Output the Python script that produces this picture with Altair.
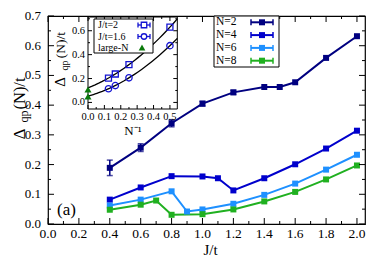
import altair as alt
import pandas as pd

SERIF = "Liberation Serif"

# ---------------- main panel data ----------------
series_names = ["N=2", "N=4", "N=6", "N=8"]
series_colors = ["#000080", "#0000cc", "#1e90ff", "#20b020"]

J_N2 = [0.4, 0.6, 0.8, 1.0, 1.2, 1.4, 1.5, 1.6, 1.8, 2.0]
gap_N2 = [0.189, 0.257, 0.339, 0.405, 0.443, 0.461, 0.461, 0.477, 0.559, 0.632]
err_N2 = [0.026, 0.013, 0.012, 0.008, 0.007, 0.0, 0.0, 0.0, 0.0, 0.0]

J_N4 = [0.4, 0.6, 0.8, 1.0, 1.1, 1.2, 1.4, 1.6, 1.8, 2.0]
gap_N4 = [0.082, 0.123, 0.161, 0.160, 0.154, 0.113, 0.154, 0.201, 0.254, 0.314]

J_N6 = [0.4, 0.6, 0.8, 0.9, 1.0, 1.2, 1.4, 1.6, 1.8, 2.0]
gap_N6 = [0.062, 0.082, 0.110, 0.042, 0.049, 0.068, 0.098, 0.136, 0.183, 0.233]

J_N8 = [0.4, 0.6, 0.7, 0.8, 1.0, 1.2, 1.4, 1.6, 1.8, 2.0]
gap_N8 = [0.048, 0.065, 0.079, 0.031, 0.033, 0.049, 0.076, 0.108, 0.150, 0.197]

x_major = [0.0, 0.2, 0.4, 0.6, 0.8, 1.0, 1.2, 1.4, 1.6, 1.8, 2.0]
x_minor = [0.1, 0.3, 0.5, 0.7, 0.9, 1.1, 1.3, 1.5, 1.7, 1.9]
y_major = [0.0, 0.1, 0.2, 0.3, 0.4, 0.5, 0.6, 0.7]
y_minor = [0.05, 0.15, 0.25, 0.35, 0.45, 0.55, 0.65]

# ---------------- inset data ----------------
Ninv = [0.125, 0.1667, 0.25, 0.5]
gap_J2 = [0.204, 0.238, 0.316, 0.630]
gap_J16 = [0.115, 0.141, 0.206, 0.475]
largeN_x = [0.0, 0.0]
largeN_gap = [0.108, 0.050]

ix_major = [0.0, 0.1, 0.2, 0.3, 0.4, 0.5]
ix_minor = [0.05, 0.15, 0.25, 0.35, 0.45]
iy_major = [0.0, 0.2, 0.4, 0.6]
iy_minor = [0.1, 0.3, 0.5, 0.7]

# ---------------- frames ----------------
rows = []
for name, Js, gs, es in [
    ("N=2", J_N2, gap_N2, err_N2),
    ("N=4", J_N4, gap_N4, [0.0] * len(J_N4)),
    ("N=6", J_N6, gap_N6, [0.0] * len(J_N6)),
    ("N=8", J_N8, gap_N8, [0.0] * len(J_N8)),
]:
    for j, g, e in zip(Js, gs, es):
        rows.append({"series": name, "J": j, "gap": g, "err": e, "lo": g - e, "hi": g + e})
main_df = pd.DataFrame(rows)

irows = []
for name, gs in [("J/t=2", gap_J2), ("J/t=1.6", gap_J16)]:
    for n, g in zip(Ninv, gs):
        irows.append({"series": name, "Ninv": n, "gap": g})
inset_df = pd.DataFrame(irows)
largeN_df = pd.DataFrame({"Ninv": largeN_x, "gap": largeN_gap})

one = pd.DataFrame({"a": [0]})

W, H = 317, 208
XMAX = 2.052

xs = alt.Scale(domain=[0, XMAX], nice=False, zero=False)
ys = alt.Scale(domain=[0, 0.7], nice=False, zero=False)
cs = alt.Scale(domain=series_names, range=series_colors)

# inset placement (pixels inside the main plot area)
IX0, IX1, IY0, IY1 = 40, 129.3, 1, 93
ixs = alt.Scale(domain=[0, 0.545], range=[IX0, IX1], nice=False, zero=False)
iys = alt.Scale(domain=[-0.055, 0.715], range=[IY1, IY0], nice=False, zero=False)

base = alt.Chart(main_df)
enc_color = alt.Color("series:N", scale=cs, legend=None)
lines = base.mark_line(strokeWidth=2).encode(
    x=alt.X("J:Q", scale=xs, axis=None),
    y=alt.Y("gap:Q", scale=ys, axis=None),
    color=enc_color, detail="series:N",
)
err = base.transform_filter("datum.err > 0")
err_rule = err.mark_rule(strokeWidth=1.5).encode(
    x=alt.X("J:Q", scale=xs, axis=None),
    y=alt.Y("lo:Q", scale=ys, axis=None), y2="hi:Q", color=enc_color)
cap_lo = err.mark_tick(orient="horizontal", size=6, thickness=1.5).encode(
    x=alt.X("J:Q", scale=xs, axis=None), y=alt.Y("lo:Q", scale=ys, axis=None), color=enc_color)
cap_hi = err.mark_tick(orient="horizontal", size=6, thickness=1.5).encode(
    x=alt.X("J:Q", scale=xs, axis=None), y=alt.Y("hi:Q", scale=ys, axis=None), color=enc_color)
points = base.mark_point(shape="square", filled=True, size=36, opacity=1).encode(
    x=alt.X("J:Q", scale=xs, axis=None),
    y=alt.Y("gap:Q", scale=ys, axis=None), color=enc_color)


def yticks(vals, scale, x0, x1):
    return alt.Chart(pd.DataFrame({"v": vals})).mark_rule(color="black", strokeWidth=1).encode(
        y=alt.Y("v:Q", scale=scale, axis=None), x=alt.value(x0), x2=alt.value(x1))


def xticks(vals, scale, y0, y1):
    return alt.Chart(pd.DataFrame({"v": vals})).mark_rule(color="black", strokeWidth=1).encode(
        x=alt.X("v:Q", scale=scale, axis=None), y=alt.value(y0), y2=alt.value(y1))


def xlabels(vals, scale, y, size):
    return alt.Chart(pd.DataFrame({"v": vals})).mark_text(
        font=SERIF, fontSize=size, align="center", baseline="middle", color="black").encode(
        x=alt.X("v:Q", scale=scale, axis=None), y=alt.value(y),
        text=alt.Text("v:Q", format=".1f"))


def ylabels(vals, scale, x, size):
    return alt.Chart(pd.DataFrame({"v": vals})).mark_text(
        font=SERIF, fontSize=size, align="right", baseline="middle", color="black").encode(
        y=alt.Y("v:Q", scale=scale, axis=None), x=alt.value(x),
        text=alt.Text("v:Q", format=".1f"))


def txt(s, x, y, size, angle=0, align="center", baseline="middle", color="black"):
    return alt.Chart(one).mark_text(text=s, font=SERIF, fontSize=size, angle=angle,
                                    align=align, baseline=baseline, color=color).encode(
        x=alt.value(x), y=alt.value(y))


def hrule(x0, x1, y, color, sw=1.0):
    return alt.Chart(one).mark_rule(color=color, strokeWidth=sw).encode(
        x=alt.value(x0), x2=alt.value(x1), y=alt.value(y))


def vrule(x, y0, y1, color, sw=1.0):
    return alt.Chart(one).mark_rule(color=color, strokeWidth=sw).encode(
        x=alt.value(x), y=alt.value(y0), y2=alt.value(y1))


def box(x0, x1, y0, y1, fill="white"):
    return alt.Chart(one).mark_rect(fill=fill, stroke="black", strokeWidth=1).encode(
        x=alt.value(x0), x2=alt.value(x1), y=alt.value(y0), y2=alt.value(y1))


main_ticks = [
    yticks(y_major, ys, 0, 6), yticks(y_minor, ys, 0, 3),
    yticks(y_major, ys, W, W - 6), yticks(y_minor, ys, W, W - 3),
    xticks(x_major, xs, H, H - 6), xticks(x_minor, xs, H, H - 3),
    xticks(x_major, xs, 0, 6), xticks(x_minor, xs, 0, 3),
]
main_labels = [
    xlabels(x_major, xs, H + 10, 13.5),
    ylabels(y_major, ys, -7, 13),
    txt("J/t", 162.5, H + 26, 15),
]

# main legend
legend_layers = [box(166, 231, 0, 51)]
for i, (name, col) in enumerate(zip(series_names, series_colors)):
    yy = 6.3 + 12.8 * i
    legend_layers += [
        txt(name, 168, yy, 11.5, align="left"),
        hrule(203, 225, yy, col, 2),
        vrule(203, yy - 3, yy + 3, col, 1.5),
        vrule(225, yy - 3, yy + 3, col, 1.5),
        alt.Chart(one).mark_point(shape="square", filled=True, size=36, opacity=1, color=col).encode(
            x=alt.value(214), y=alt.value(yy)),
    ]

# y title (Delta_qp(N)/t)
ytitle = [
    txt("Δ", -23.5, 118, 17, angle=270, baseline="alphabetic"),
    txt("qp", -20, 100.5, 12, angle=270, baseline="alphabetic"),
    txt("(N)/t", -23.5, 77.5, 16.5, angle=270, baseline="alphabetic"),
]
panel_label = txt("(a)", 18.5, 194, 17)

main_group = alt.layer(lines, err_rule, cap_lo, cap_hi, points, *main_ticks, *main_labels,
                       *legend_layers, *ytitle, panel_label)

# ---------------- inset ----------------
BLUE = "#1414d2"
GREEN = "#0b7a0b"

inset_frame = box(IX0, IX1, IY0, IY1)
fits = alt.Chart(inset_df).transform_regression(
    "Ninv", "gap", groupby=["series"], method="poly", order=2, extent=[0, 0.545]
).mark_line(color="black", strokeWidth=1.3).encode(
    x=alt.X("Ninv:Q", scale=ixs, axis=None),
    y=alt.Y("gap:Q", scale=iys, axis=None),
    detail="series:N",
)
sq = alt.Chart(inset_df).transform_filter("datum.series == 'J/t=2'").mark_point(
    shape="square", filled=False, size=36, strokeWidth=1.3, color=BLUE, opacity=1).encode(
    x=alt.X("Ninv:Q", scale=ixs, axis=None), y=alt.Y("gap:Q", scale=iys, axis=None))
ci = alt.Chart(inset_df).transform_filter("datum.series == 'J/t=1.6'").mark_point(
    shape="circle", filled=False, size=40, strokeWidth=1.3, color=BLUE, opacity=1).encode(
    x=alt.X("Ninv:Q", scale=ixs, axis=None), y=alt.Y("gap:Q", scale=iys, axis=None))
tri = alt.Chart(largeN_df).mark_point(
    shape="triangle-up", filled=True, size=50, color=GREEN, opacity=1).encode(
    x=alt.X("Ninv:Q", scale=ixs, axis=None), y=alt.Y("gap:Q", scale=iys, axis=None))

inset_ticks = [
    yticks(iy_major, iys, IX0, IX0 + 4), yticks(iy_minor, iys, IX0, IX0 + 2),
    yticks(iy_major, iys, IX1, IX1 - 4), yticks(iy_minor, iys, IX1, IX1 - 2),
    xticks(ix_major, ixs, IY1, IY1 - 4), xticks(ix_minor, ixs, IY1, IY1 - 2),
    xticks(ix_major, ixs, IY0, IY0 + 4), xticks(ix_minor, ixs, IY0, IY0 + 2),
]
inset_labels = [
    xlabels(ix_major, ixs, IY1 + 8, 10.5),
    ylabels(iy_major, iys, IX0 - 3, 10.5),
]

# inset legend
ileg = [box(46, 105, 3, 37)]
ileg_rows = [("J/t=2", "square"), ("J/t=1.6", "circle")]
for i, (name, shp) in enumerate(ileg_rows):
    yy = 9 + 11.5 * i
    ileg += [
        txt(name, 50, yy, 10, align="left"),
        hrule(90, 102, yy, BLUE, 1.3),
        vrule(90, yy - 2.5, yy + 2.5, BLUE, 1.3),
        vrule(102, yy - 2.5, yy + 2.5, BLUE, 1.3),
        alt.Chart(one).mark_point(shape=shp, filled=True, fill="white", size=30, strokeWidth=1.3,
                                  stroke=BLUE, opacity=1).encode(x=alt.value(96), y=alt.value(yy)),
    ]
ileg += [
    txt("large-N", 50, 32, 10, align="left"),
    alt.Chart(one).mark_point(shape="triangle-up", filled=True, size=45, color=GREEN,
                              opacity=1).encode(x=alt.value(94), y=alt.value(31.5)),
]

ititle = [
    txt("Δ", 17, 66, 15, angle=270, baseline="alphabetic"),
    txt("qp", 20, 49.5, 10, angle=270, baseline="alphabetic"),
    txt("(N)/t", 17, 29, 13.5, angle=270, baseline="alphabetic"),
    txt("N⁻¹", 85, 115, 13),
]

inset_group = alt.layer(inset_frame, *inset_ticks, *inset_labels, fits, sq, ci, tri,
                        *ileg, *ititle)

chart = alt.layer(main_group, inset_group).resolve_scale(
    x="independent", y="independent"
).properties(
    width=W, height=H,
    autosize=alt.AutoSizeParams(type="none"),
    padding={"left": 40, "top": 8, "right": 1, "bottom": 34},
    background="white",
).configure_view(stroke="black", strokeWidth=1.2)

chart.save("out.html", embed_options={"renderer": "svg", "actions": False})
